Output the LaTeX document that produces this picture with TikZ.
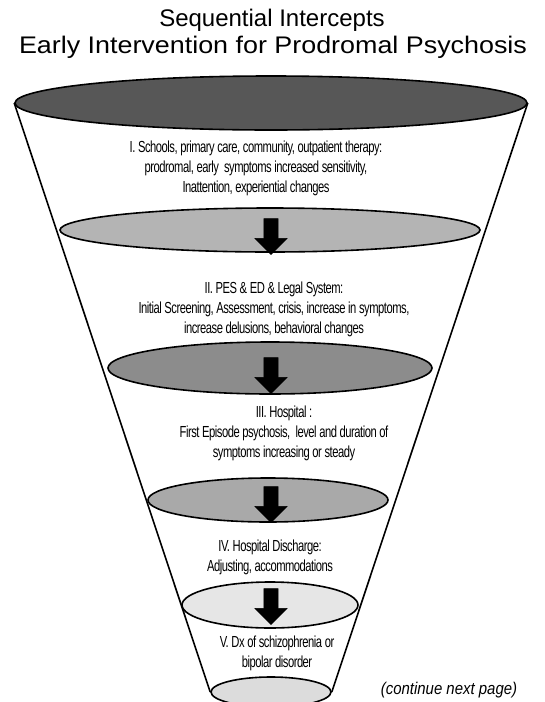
\documentclass[tikz,border=0pt]{standalone}
\usepackage{fontspec}
\setmainfont{Liberation Sans}
\newfontfamily\narrowsf[FakeStretch=0.70,LetterSpace=-3]{Liberation Sans}
\newfontfamily\widesf[FakeStretch=1.12]{Liberation Sans}
\newfontfamily\notesf[FakeStretch=0.88]{Liberation Sans}
\usetikzlibrary{shapes.geometric,shapes.arrows,backgrounds}
\definecolor{sigrayA}{RGB}{87,87,87}
\definecolor{sigrayB}{RGB}{180,180,180}
\definecolor{sigrayC}{RGB}{140,140,140}
\definecolor{sigrayD}{RGB}{169,169,169}
\definecolor{sigrayE}{RGB}{230,230,230}
\definecolor{sigrayF}{RGB}{220,220,220}

\begin{document}
\begin{tikzpicture}[x=1pt, y=-1pt,
  layer/.style={ellipse, draw, line width=1.6pt, inner sep=0pt},
  down/.style={single arrow, draw, fill=black, shape border rotate=270, minimum height=36pt, single arrow head extend=9pt, single arrow head indent=0pt, inner sep=0pt},
  stage/.style={align=center, font=\narrowsf\fontsize{16}{20}\selectfont}]
  \useasboundingbox (0,0) rectangle (545,702);
  % titles
  \node[font=\fontsize{24}{26}\selectfont] (title) at (272,20) {Sequential Intercepts};
  \node[font=\widesf\fontsize{24}{26}\selectfont] (subtitle) at (273,47) {Early Intervention for Prodromal Psychosis};
  % funnel rings
  \node[layer, fill=sigrayA, minimum width=512pt, minimum height=54pt] (r1) at (271,103) {};
  \node[layer, fill=sigrayB, minimum width=420pt, minimum height=44pt] (r2) at (270,230) {};
  \node[layer, fill=sigrayC, minimum width=324pt, minimum height=52pt] (r3) at (270,368) {};
  \node[layer, fill=sigrayD, minimum width=240pt, minimum height=44pt] (r4) at (268,500) {};
  \node[layer, fill=sigrayE, minimum width=176pt, minimum height=46pt] (r5) at (270,605) {};
  \node[layer, fill=sigrayF, minimum width=120pt, minimum height=30pt] (r6) at (271,692) {};
  \begin{scope}[on background layer]
    \draw[line width=1.6pt] (r1.west) -- (r6.west);
    \draw[line width=1.6pt] (r1.east) -- (r6.east);
  \end{scope}
  % arrows
  \node[down] (a2) at (271,233) {\rule{14pt}{0pt}\rule{0pt}{14pt}};
  \node[down] (a3) at (271,372) {\rule{14pt}{0pt}\rule{0pt}{14pt}};
  \node[down] (a4) at (271,501) {\rule{14pt}{0pt}\rule{0pt}{14pt}};
  \node[down] (a5) at (271,603) {\rule{14pt}{0pt}\rule{0pt}{14pt}};
  % stage texts
  \node[stage] (s1) at (256,168) {I. Schools, primary care, community, outpatient therapy:\\prodromal, early\ \ symptoms increased sensitivity,\\Inattention, experiential changes};
  \node[stage] (s2) at (274,309) {II. PES \& ED \& Legal System:\\Initial Screening, Assessment, crisis, increase in symptoms,\\increase delusions, behavioral changes};
  \node[stage] (s3) at (284,433) {III. Hospital :\\First Episode psychosis,\ \ level and duration of\\symptoms increasing or steady};
  \node[stage] (s4) at (270,557) {IV. Hospital Discharge:\\Adjusting, accommodations};
  \node[stage] (s5) at (277,653) {V. Dx of schizophrenia or\\bipolar disorder};
  \node[font=\notesf\itshape\fontsize{17}{19}\selectfont] (cont) at (449,690) {(continue next page)};
\end{tikzpicture}
\end{document}
